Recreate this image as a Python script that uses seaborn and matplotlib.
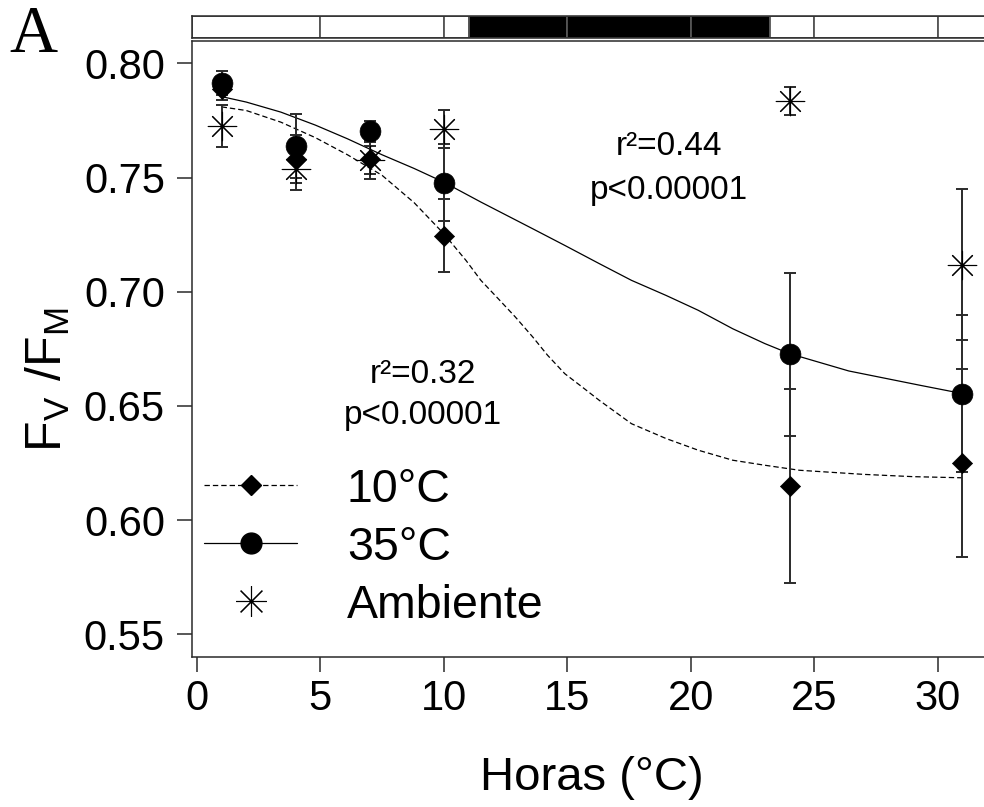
import matplotlib
matplotlib.use("Agg")
import matplotlib.pyplot as plt
from matplotlib.lines import Line2D
import seaborn as sns
import pandas as pd

# ---------------- data ----------------
hours = [1, 4, 7, 10, 24, 31]
t10 = [0.789, 0.758, 0.758, 0.7245, 0.615, 0.625]
t10_err = [0.005, 0.0105, 0.0087, 0.016, 0.0425, 0.041]
t35 = [0.7915, 0.7640, 0.7704, 0.7478, 0.6726, 0.6554]
t35_err = [0.0053, 0.014, 0.0046, 0.017, 0.0356, 0.0343]
amb = [0.7726, 0.7539, 0.7577, 0.7714, 0.7836, 0.7119]
amb_err = [0.009, 0.0095, 0.006, 0.0083, 0.0063, 0.033]

# fitted curves
fit35_h = [1, 2, 3.4, 4.8, 6.1, 7.5, 8.8, 10, 11.5, 13.6, 14.9, 16.3, 17.6,
           19, 20.3, 21.7, 23, 24, 26.4, 29.3, 31]
fit35 = [0.7855, 0.7831, 0.7787, 0.7730, 0.7670, 0.7600, 0.7540, 0.7480,
         0.7393, 0.7276, 0.7203, 0.7123, 0.7050, 0.6984, 0.6919, 0.6838,
         0.6773, 0.6729, 0.6653, 0.6590, 0.6554]
fit10_h = [1, 2, 3.4, 4.8, 6.1, 7.5, 8.8, 10, 10.9, 11.5, 12.2, 12.9, 13.6,
           14.2, 14.9, 15.6, 16.3, 17.6, 19, 20.3, 21.7, 23, 24.4, 27, 29, 31]
fit10 = [0.7810, 0.7794, 0.7743, 0.7675, 0.7600, 0.7510, 0.7390, 0.7254,
         0.7137, 0.7050, 0.6970, 0.6889, 0.6802, 0.6722, 0.6641, 0.6583,
         0.6524, 0.6422, 0.6357, 0.6306, 0.6262, 0.6240, 0.6218, 0.6200,
         0.6190, 0.6185]

# light/dark bar on top
bar_edges = [-0.2, 5, 10, 11, 15, 20, 23.2, 25, 30, 32.2]
bar_dark = [0, 0, 0, 1, 1, 1, 0, 0, 0]

x_ticks = [0, 5, 10, 15, 20, 25, 30]
y_ticks = [0.55, 0.60, 0.65, 0.70, 0.75, 0.80]
series_labels = ["10\u00b0C", "35\u00b0C", "Ambiente"]
stats_35 = ["r\u00b2=0.44", "p<0.00001"]
stats_10 = ["r\u00b2=0.32", "p<0.00001"]

# ---------------- style ----------------
sns.set_theme(style="white")
plt.rcParams["font.family"] = ["Liberation Sans", "DejaVu Sans"]
plt.rcParams["mathtext.default"] = "regular"
plt.rcParams["text.color"] = "black"
plt.rcParams["axes.labelcolor"] = "black"
plt.rcParams["xtick.color"] = "black"
plt.rcParams["ytick.color"] = "black"

DARK = "#2a2a2a"
fig = plt.figure(figsize=(9.84, 8.07), dpi=100)
XL = (-0.2, 32.2)
ax = fig.add_axes([0.1951, 0.1859, 0.8130, 0.7637])
bax = fig.add_axes([0.1951, 0.9523, 0.8130, 0.0279])

# curves
d35 = pd.DataFrame({"h": fit35_h, "v": fit35})
d10 = pd.DataFrame({"h": fit10_h, "v": fit10})
sns.lineplot(data=d35, x="h", y="v", ax=ax, color="black", lw=0.9, zorder=2)
sns.lineplot(data=d10, x="h", y="v", ax=ax, color="black", lw=0.9,
             linestyle=(0, (4.3, 2.4)), zorder=2)

# error bars
for vals, errs in [(t10, t10_err), (t35, t35_err), (amb, amb_err)]:
    ax.errorbar(hours, vals, yerr=errs, fmt="none", ecolor=DARK,
                elinewidth=1.4, capsize=4.5, capthick=1.4, zorder=2.5)

# points
pts = pd.DataFrame({"h": hours, "t10": t10, "t35": t35, "amb": amb})
sns.scatterplot(data=pts, x="h", y="amb", ax=ax, marker=(8, 2, 0), s=420,
                color="black", edgecolor="black", linewidth=0.8, zorder=3)
sns.scatterplot(data=pts, x="h", y="t10", ax=ax, marker="D", s=105,
                color="black", edgecolor="black", linewidth=0.5, zorder=3)
sns.scatterplot(data=pts, x="h", y="t35", ax=ax, marker="o", s=225,
                color="black", edgecolor="black", linewidth=0.5, zorder=4)

# axes
ax.set_xlim(*XL)
ax.set_ylim(0.540, 0.810)
ax.set_xticks(x_ticks)
ax.set_xticklabels([str(t) for t in x_ticks])
ax.set_yticks(y_ticks)
ax.set_yticklabels([f"{t:.2f}" for t in y_ticks])
ax.tick_params(axis="both", direction="out", length=10.5, width=1.1,
               color=DARK, labelsize=30, labelcolor="black", left=True,
               bottom=True)
ax.tick_params(axis="y", pad=9)
ax.tick_params(axis="x", pad=5)
for sp in ax.spines.values():
    sp.set_visible(True)
    sp.set_color(DARK)
    sp.set_linewidth(1.1)

ax.set_xlabel("Horas (\u00b0C)", fontsize=34, color="black")
ax.xaxis.label.set_va("center")
ax.xaxis.set_label_coords(0.5, -0.196)
ax.set_ylabel(r"$\mathregular{F_V\ /F_M}$", fontsize=36, color="black")
ax.yaxis.label.set_va("center")
ax.yaxis.set_label_coords(-0.18, 0.45)

# stats text
ax.text(19.1, 0.7637, stats_35[0], ha="center", va="center", fontsize=24,
        color="black")
ax.text(19.1, 0.7444, stats_35[1], ha="center", va="center", fontsize=24,
        color="black")
ax.text(9.14, 0.6638, stats_10[0], ha="center", va="center", fontsize=24,
        color="black")
ax.text(9.14, 0.6459, stats_10[1], ha="center", va="center", fontsize=24,
        color="black")

# legend
handles = [
    Line2D([], [], color="black", lw=0.9, linestyle=(0, (4.3, 2.4)),
           marker="D", ms=10.2, mfc="black", mec="black"),
    Line2D([], [], color="black", lw=0.9, marker="o", ms=15,
           mfc="black", mec="black"),
    Line2D([], [], color="black", ls="none", marker=(8, 2, 0), ms=22,
           mew=0.8),
]
leg = ax.legend(handles, series_labels, loc="upper left",
                bbox_to_anchor=(0.015, 0.307), frameon=False, fontsize=33.5,
                handlelength=2.0, handletextpad=1.07, labelspacing=0.3,
                borderpad=0, borderaxespad=0)
for t in leg.get_texts():
    t.set_color("black")

# top bar
lefts = bar_edges[:-1]
widths = [b - a for a, b in zip(bar_edges[:-1], bar_edges[1:])]
cols = ["black" if d else "white" for d in bar_dark]
bax.barh([0.5] * len(lefts), widths, left=lefts, height=1.0, color=cols,
         edgecolor="#555555", linewidth=1.3)
bax.set_xlim(*XL)
bax.set_ylim(0, 1)
bax.set_xticks([])
bax.set_yticks([])
for sp in bax.spines.values():
    sp.set_color(DARK)
    sp.set_linewidth(1.1)

fig.text(33 / 984, 1 - 35 / 807, "A", ha="center", va="center",
         family="Liberation Serif", fontsize=48, color="black")

fig.savefig("out.png", dpi=100)
